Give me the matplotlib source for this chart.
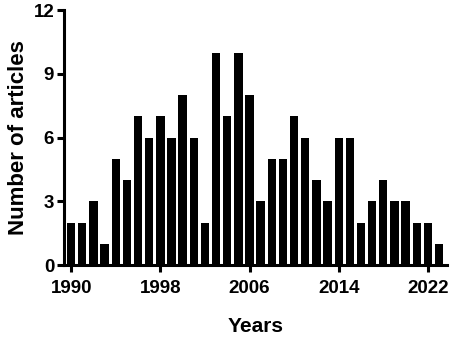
import matplotlib
matplotlib.use("Agg")
import matplotlib.pyplot as plt

years = list(range(1990, 2024))
counts = [2, 2, 3, 1, 5, 4, 7, 6, 7, 6, 8, 6, 2, 10, 7, 10, 8, 3, 5, 5,
          7, 6, 4, 3, 6, 6, 2, 3, 4, 3, 3, 2, 2, 1]
xticks = [1990, 1998, 2006, 2014, 2022]
yticks = [0, 3, 6, 9, 12]

plt.rcParams['font.family'] = ['Liberation Sans', 'DejaVu Sans']
plt.rcParams['font.weight'] = 'bold'

fig = plt.figure(figsize=(4.5, 3.37), dpi=100)
ax = fig.add_axes([0.142, 0.2136, 0.851, 0.7564])
ax.bar(years, counts, width=0.75, color='black')
ax.set_xlim(1989.35, 2023.7)
ax.set_ylim(0, 12)
ax.set_xticks(xticks)
ax.set_yticks(yticks)
for s in ['top', 'right']:
    ax.spines[s].set_visible(False)
for s in ['left', 'bottom']:
    ax.spines[s].set_linewidth(2.2)
ax.tick_params(width=2.2, length=5, labelsize=13.5)
ax.tick_params(axis='x', pad=6)
ax.tick_params(axis='y', pad=2)
for lab in ax.get_xticklabels() + ax.get_yticklabels():
    lab.set_fontweight('bold')
ax.set_xlabel('Years', fontsize=15, fontweight='bold', labelpad=14)
ax.set_ylabel('Number of articles', fontsize=16, fontweight='bold', labelpad=3)
fig.savefig('out.png', dpi=100)
